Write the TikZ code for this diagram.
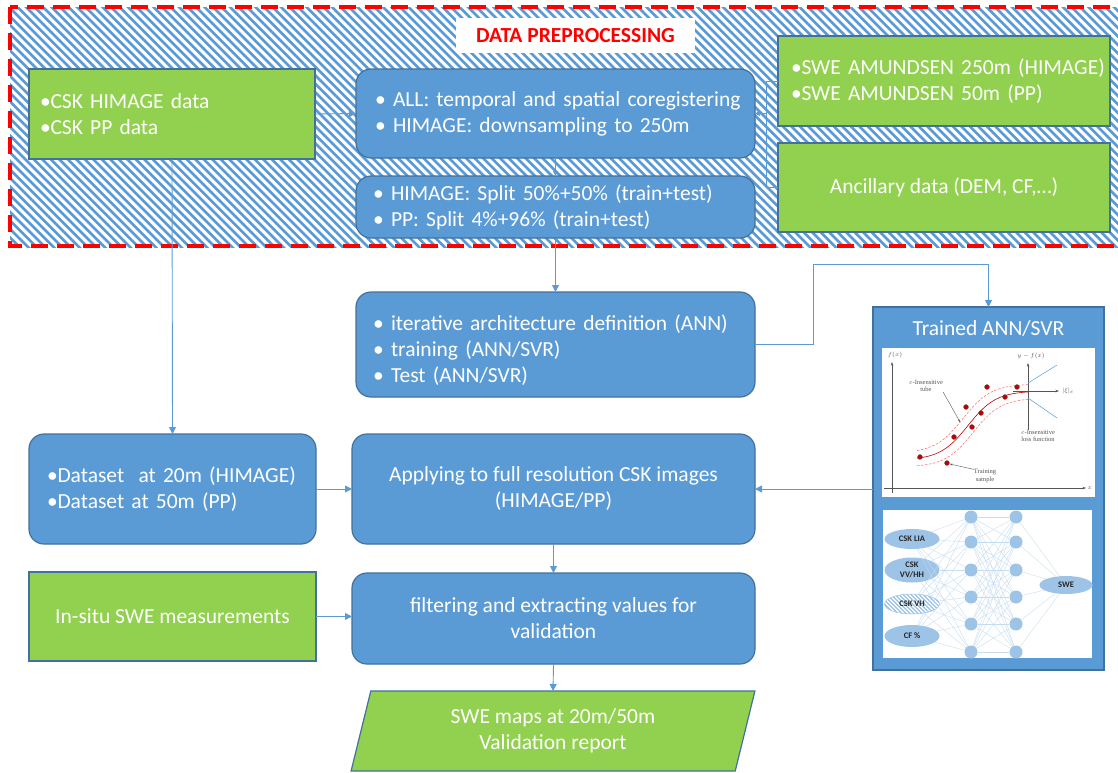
\documentclass[tikz,border=0pt]{standalone}
\usepackage{fontspec}
\setmainfont{Carlito}
\newfontfamily\plotserif{Liberation Serif}
\usetikzlibrary{arrows.meta,shapes.geometric,calc}
\definecolor{bfill}{HTML}{5B9BD5}
\definecolor{bdraw}{HTML}{41719C}
\definecolor{gfill}{HTML}{92D050}
\definecolor{hatchc}{HTML}{5B9BD5}
\definecolor{nnc}{HTML}{9DC3E6}
\definecolor{nnl}{HTML}{C5DCF0}
\definecolor{dotred}{HTML}{C00000}
\definecolor{axc}{HTML}{555555}
\newcommand\tb[1]{\mbox{\makebox[18pt][l]{•}#1}}
\newcommand\gb[1]{\mbox{\makebox[10.5pt][l]{•}#1}}
\tikzset{
  boxtext/.style={text=white, font=\fontsize{21.5}{26}\selectfont},
  bluebox/.style={draw=bdraw, fill=bfill, line width=1.2pt, rounded corners=15pt, inner sep=0pt, outer sep=0pt, boxtext},
  greenbox/.style={draw=bdraw, fill=gfill, line width=1.2pt, inner sep=0pt, outer sep=0pt, boxtext},
  arr/.style={draw=bfill, line width=0.9pt, -{Triangle[length=7pt,width=7pt]}},
  conn/.style={draw=bfill, line width=0.9pt},
  panel/.style={draw=none, fill=white, inner sep=0pt, outer sep=0pt},
  neuron/.style={circle, fill=nnc, draw=none, minimum size=13pt, inner sep=0pt},
  inell/.style={ellipse, fill=nnc, draw=none, minimum width=55pt, inner sep=0pt, align=center, text=black!85, font=\fontsize{8.5}{10}\selectfont\bfseries},
  nnline/.style={draw=nnl, line width=0.35pt},
  axis/.style={draw=axc, line width=0.6pt, -{Stealth[length=3.5pt,width=2.5pt]}},
  plotlbl/.style={font=\plotserif\fontsize{6.5}{7.2}\selectfont, text=axc, align=center, inner sep=0pt},
  tdot/.style={circle, fill=dotred, draw=black!60, line width=0.3pt, minimum size=5pt, inner sep=0pt},
}
\begin{document}
\begin{tikzpicture}[x=1pt,y=-1pt]
\useasboundingbox (0,0) rectangle (1118,772);
\clip (0,0) rectangle (1118,772);
\fill[white] (0,0) rectangle (1118,772);

% hatched preprocessing area
\begin{scope}
  \clip (10,7) rectangle (1118,247);
  \foreach \i in {-270,-261.5,...,1130}{
    \draw[hatchc, line width=2.6pt] (\i,0) -- ++(260,260);
  }
\end{scope}
\draw[red, line width=3.6pt, dash pattern=on 17pt off 9pt] (10,7) rectangle (1140,246);

% title
\node[fill=white, minimum width=239pt, minimum height=35pt, inner sep=0pt, text=red, font=\fontsize{21.5}{24}\selectfont\bfseries] (title) at (575.5,35.5) {DATA PREPROCESSING};

% top row
\node[greenbox, minimum width=286pt, minimum height=90pt, text width=264pt, inner xsep=11pt, align=left] (csk) at (172,114) {\gb{CSK HIMAGE data}\\\gb{CSK PP data}};
\node[bluebox, minimum width=399pt, minimum height=89pt, text width=361pt, inner xsep=19pt, align=left] (all) at (555.5,113.5) {\tb{ALL: temporal and spatial coregistering}\\\tb{HIMAGE: downsampling to 250m}};
\node[bluebox, minimum width=399pt, minimum height=62pt, text width=365pt, inner xsep=17pt, align=left] (split) at (555.5,207) {\tb{HIMAGE: Split 50\%+50\% (train+test)}\\\tb{PP: Split 4\%+96\% (train+test)}};
\node[greenbox, minimum width=332pt, minimum height=90pt, text width=306pt, inner xsep=13pt, align=left] (swe) at (944,81) {\gb{SWE AMUNDSEN 250m (HIMAGE)}\\\gb{SWE AMUNDSEN 50m (PP)}};
\node[greenbox, minimum width=332pt, minimum height=89pt] (anc) at (944,187.5) {Ancillary data (DEM, CF,…)};

% middle
\node[bluebox, minimum width=399pt, minimum height=105pt, text width=365pt, inner xsep=17pt, align=left] (ann) at (555.5,344.5) {\tb{\rule{0pt}{26pt}iterative architecture definition (ANN)}\\\tb{training (ANN/SVR)}\\\tb{Test (ANN/SVR)}};
\node[bluebox, minimum width=287pt, minimum height=110pt, text width=251pt, inner xsep=18pt, align=left] (ds) at (172.5,489) {\gb{Dataset\ \ at 20m (HIMAGE)}\\\gb{Dataset at 50m (PP)}};
\node[bluebox, minimum width=403pt, minimum height=110pt, align=center] (app) at (553.5,489) {Applying to full resolution CSK images\\(HIMAGE/PP)};
\node[greenbox, minimum width=287pt, minimum height=89pt] (insitu) at (172.5,616.5) {In-situ SWE measurements};
\node[bluebox, minimum width=403pt, minimum height=91pt, align=center] (filt) at (553.5,618.5) {filtering and extracting values for\\validation};
\node[trapezium, trapezium left angle=76, trapezium right angle=104, trapezium stretches=true, draw=bdraw, fill=gfill, line width=1.2pt, minimum width=404pt, minimum height=80pt, inner sep=0pt, outer sep=0pt, boxtext, align=center] (out) at (553,731) {SWE maps at 20m/50m\\Validation report};

% trained box
\node[draw=bdraw, fill=bfill, line width=1.2pt, minimum width=231pt, minimum height=363pt, inner sep=0pt, outer sep=0pt] (trained) at (988.5,488.5) {};
\node[boxtext, inner sep=0pt] (ttl) at (988.5,328) {Trained ANN/SVR};
\node[panel, minimum width=213pt, minimum height=149pt] (p1) at (988.5,422.5) {};
\node[panel, minimum width=209pt, minimum height=148pt] (p2) at (987.5,584) {};

% SVR plot
\draw[axis] (892,493) -- (892,362);
\node[plotlbl] (fx) at (895,355) {$f(x)$};
\draw[axis] (884,488) -- (1086,488);
\node[plotlbl] (xl) at (1090,488) {$x$};
\draw[axis] (1028,430) -- (1028,363);
\node[plotlbl] (yfx) at (1031,356) {$y-f(x)$};
\draw[axis] (1013,391) -- (1059,391);
\node[plotlbl] (xil) at (1068,391) {$|\xi|_\varepsilon$};
\draw[bfill, line width=0.5pt] (1028,383) -- (1057,365);
\draw[bfill, line width=0.5pt] (1028,398) -- (1057,418);
\draw[red!75!black, line width=0.6pt, domain=917:1028, samples=40] plot (\x,{460-69/(1+exp(-(\x-968)/14))});
\draw[red!60, line width=0.5pt, dash pattern=on 2.5pt off 1.5pt, domain=917:1028, samples=40] plot (\x,{453-69/(1+exp(-(\x-963)/14))});
\draw[red!60, line width=0.5pt, dash pattern=on 2.5pt off 1.5pt, domain=917:1028, samples=40] plot (\x,{467-69/(1+exp(-(\x-973)/14))});
\foreach \px/\py in {920/457,947/463,954/437,966/407,972/427,981/413,987/387,1005/397,1017/387}{
  \node[tdot] at (\px,\py) {};
}
\node[plotlbl] (tubel) at (926,386) {$\varepsilon$-Insensitive\\tube};
\node[plotlbl] (sampl) at (985,476) {Training\\sample};
\node[plotlbl] (lossl) at (1038,436) {$\varepsilon$-Insensitive\\loss function};
\draw[draw=axc, line width=0.4pt, -{Stealth[length=2.5pt,width=2pt]}] (tubel.south east) -- (960,422);
\draw[draw=axc, line width=0.4pt, -{Stealth[length=2.5pt,width=2pt]}] (sampl.north west) -- (950,464);

% neural network
\node[inell, minimum height=20pt] (in1) at (912,539) {CSK LIA};
\node[inell, minimum height=25pt] (in2) at (912,570) {CSK\\VV/HH};
\node[inell, minimum height=20pt, fill=white, draw=nnc, line width=0.5pt,
  path picture={\foreach \k in {-30,-26,...,60}{\draw[nnc, line width=1.1pt] ([xshift=\k pt]path picture bounding box.north west) -- ++(25,25);}}] (in3) at (912,604) {CSK VH};
\node[inell, minimum height=22pt] (in4) at (912,636) {CF \%};
\node[inell, minimum width=53pt, minimum height=18pt] (swe2) at (1066,585) {SWE};
\foreach \i/\y in {1/517,2/542,3/570,4/597,5/624,6/652}{
  \node[neuron] (a\i) at (971,\y) {};
  \node[neuron] (b\i) at (1016,\y) {};
}
\foreach \i in {1,...,6}{
  \foreach \j in {1,...,6}{\draw[nnline] (a\i) -- (b\j);}
  \foreach \k in {1,...,4}{\draw[nnline] (in\k) -- (a\i);}
  \draw[nnline] (b\i) -- (swe2);
}

% connectors
\draw[arr] (csk.east) -- (all.west);
\coordinate (br) at (766,113.5);
\draw[conn, line width=0.6pt] (swe.west) -- ++(-12,0) |- (anc.west);
\draw[arr, line width=0.6pt, -{Triangle[length=5pt,width=5pt]}] (br) -- (all.east);
\draw[arr, -{Triangle[length=5pt,width=5pt]}] (all.south) -- (split.north);
\draw[arr] (split.south) -- (ann.north);
\draw[arr] (csk.south) -- (ds.north);
\draw[arr] (ann.east) -- ++(58,0) |- ([yshift=43pt]trained.north) -- (trained.north);
\draw[arr] (trained.west |- app.east) -- (app.east);
\draw[arr] (ds.east) -- (app.west);
\draw[arr] (app.south) -- (filt.north);
\draw[arr] (insitu.east) -- (insitu.east -| filt.west);
\draw[arr] (filt.south) -- (out.north);
\end{tikzpicture}
\end{document}
